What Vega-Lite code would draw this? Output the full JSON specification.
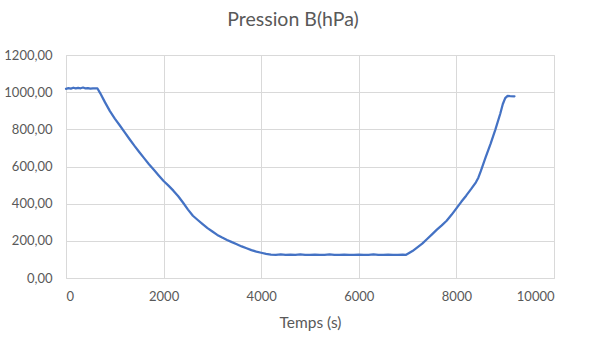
{
  "$schema": "https://vega.github.io/schema/vega-lite/v6.json",
  "autosize": {"type": "none"},
  "padding": {"left": 66, "top": 55, "right": 36, "bottom": 65},
  "width": 488,
  "height": 223,
  "background": "white",
  "title": {"text": "Pression B(hPa)", "fontSize": 19.5, "font": "Lato", "fontWeight": "normal", "color": "#595959", "offset": 19, "anchor": "middle", "dx": -17},
  "data": {"values": [
    {"t": 0, "p": 1018}, {"t": 50, "p": 1022}, {"t": 100, "p": 1019}, {"t": 150, "p": 1024},
    {"t": 200, "p": 1020}, {"t": 250, "p": 1023}, {"t": 300, "p": 1021}, {"t": 350, "p": 1025},
    {"t": 400, "p": 1020}, {"t": 450, "p": 1022}, {"t": 500, "p": 1019}, {"t": 550, "p": 1021},
    {"t": 600, "p": 1020}, {"t": 645, "p": 1020}, {"t": 700, "p": 995}, {"t": 800, "p": 945},
    {"t": 900, "p": 898}, {"t": 1000, "p": 858}, {"t": 1100, "p": 822}, {"t": 1200, "p": 785},
    {"t": 1300, "p": 748}, {"t": 1400, "p": 712}, {"t": 1500, "p": 678}, {"t": 1600, "p": 645},
    {"t": 1700, "p": 612}, {"t": 1800, "p": 582}, {"t": 1900, "p": 552}, {"t": 2000, "p": 522},
    {"t": 2100, "p": 497}, {"t": 2200, "p": 470}, {"t": 2300, "p": 440}, {"t": 2400, "p": 405},
    {"t": 2500, "p": 368}, {"t": 2600, "p": 335}, {"t": 2700, "p": 312}, {"t": 2800, "p": 290},
    {"t": 2900, "p": 268}, {"t": 3000, "p": 250}, {"t": 3100, "p": 232}, {"t": 3200, "p": 218},
    {"t": 3300, "p": 205}, {"t": 3400, "p": 193}, {"t": 3500, "p": 182}, {"t": 3600, "p": 170},
    {"t": 3700, "p": 160}, {"t": 3800, "p": 150}, {"t": 3900, "p": 142}, {"t": 4000, "p": 136},
    {"t": 4100, "p": 130}, {"t": 4200, "p": 126}, {"t": 4300, "p": 125}, {"t": 4400, "p": 127},
    {"t": 4500, "p": 124}, {"t": 4600, "p": 126}, {"t": 4700, "p": 125}, {"t": 4800, "p": 127},
    {"t": 4900, "p": 124}, {"t": 5000, "p": 125}, {"t": 5100, "p": 126}, {"t": 5200, "p": 124},
    {"t": 5300, "p": 125}, {"t": 5400, "p": 127}, {"t": 5500, "p": 124}, {"t": 5600, "p": 125},
    {"t": 5700, "p": 126}, {"t": 5800, "p": 124}, {"t": 5900, "p": 125}, {"t": 6000, "p": 126},
    {"t": 6100, "p": 124}, {"t": 6200, "p": 125}, {"t": 6300, "p": 127}, {"t": 6400, "p": 124},
    {"t": 6500, "p": 125}, {"t": 6600, "p": 126}, {"t": 6700, "p": 124}, {"t": 6800, "p": 125},
    {"t": 6900, "p": 126}, {"t": 6970, "p": 125}, {"t": 7100, "p": 145}, {"t": 7200, "p": 165},
    {"t": 7300, "p": 185}, {"t": 7400, "p": 210}, {"t": 7500, "p": 235}, {"t": 7600, "p": 260},
    {"t": 7700, "p": 283}, {"t": 7800, "p": 308}, {"t": 7900, "p": 340}, {"t": 8000, "p": 375},
    {"t": 8100, "p": 410}, {"t": 8200, "p": 443}, {"t": 8300, "p": 478}, {"t": 8400, "p": 515},
    {"t": 8450, "p": 540}, {"t": 8500, "p": 575}, {"t": 8600, "p": 650}, {"t": 8700, "p": 722},
    {"t": 8800, "p": 800}, {"t": 8900, "p": 885}, {"t": 8950, "p": 935}, {"t": 9000, "p": 968},
    {"t": 9050, "p": 980}, {"t": 9100, "p": 979}, {"t": 9190, "p": 978}
  ]},
  "mark": {"type": "line", "color": "#4472C4", "strokeWidth": 2.25, "strokeJoin": "round", "strokeCap": "round"},
  "encoding": {
    "x": {"field": "t", "type": "quantitative", "title": "Temps (s)",
      "scale": {"domain": [0, 10000], "nice": false, "zero": false},
      "axis": {"values": [0, 2000, 4000, 6000, 8000, 10000], "format": "d", "domain": false, "ticks": false,
        "gridColor": "#d9d9d9", "labelPadding": 12, "titlePadding": 12, "titleFontSize": 15.5}},
    "y": {"field": "p", "type": "quantitative", "title": null,
      "scale": {"domain": [0, 1200], "nice": false},
      "axis": {"values": [0, 200, 400, 600, 800, 1000, 1200], "labelExpr": "replace(format(datum.value, '.2f'), '.', ',')",
        "domain": false, "ticks": false, "gridColor": "#d9d9d9", "labelPadding": 14, "labelFontSize": 13}}
  },
  "config": {
    "view": {"stroke": "#d9d9d9"},
    "axis": {"labelFont": "Lato", "labelFontSize": 13, "labelColor": "#595959", "titleFont": "Lato", "titleFontSize": 14, "titleFontWeight": "normal", "titleColor": "#595959", "gridWidth": 1}
  }
}
